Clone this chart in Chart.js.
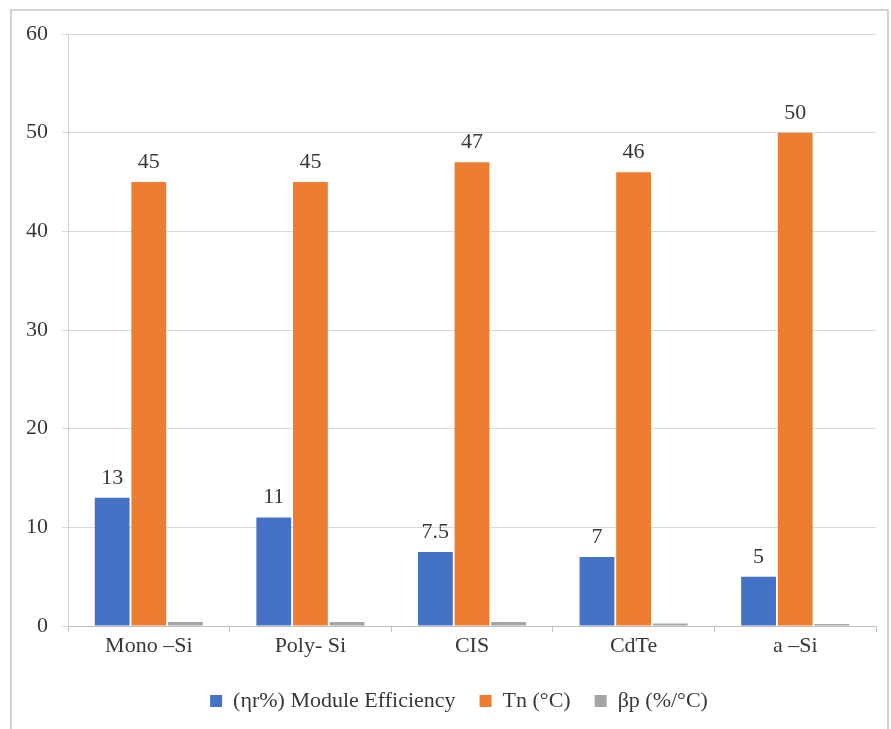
<!DOCTYPE html>
<html>
<head>
<meta charset="utf-8">
<script src="https://cdn.jsdelivr.net/npm/chart.js@4/dist/chart.umd.min.js"></script>
<style>
  html, body { margin: 0; padding: 0; background: #ffffff; }
  #wrap { position: relative; width: 891px; height: 729px; overflow: hidden; }
  #frame { position: absolute; left: 10px; top: 9px; width: 879px; height: 760px;
           border: 2px solid #d2d2d2; box-sizing: border-box; pointer-events: none; }
  canvas { position: absolute; left: 0; top: 0; }
</style>
</head>
<body>
<div id="wrap">
  <canvas id="chart" width="891" height="729"></canvas>
  <div id="frame"></div>
</div>
<script>
// PV module technologies and their characteristics
const categories = ['Mono \u2013Si', 'Poly- Si', 'CIS', 'CdTe', 'a \u2013Si'];
const efficiency = [13, 11, 7.5, 7, 5];          // (ηr%) Module Efficiency
const noct = [45, 45, 47, 46, 50];               // Tn (°C)
const tempCoeff = [0.4, 0.4, 0.4, 0.25, 0.2];    // βp (%/°C)
const yTicks = [0, 10, 20, 30, 40, 50, 60];

const seriesNames = ['(\u03b7r%) Module Efficiency', 'Tn (\u00b0C)', '\u03b2p (%/\u00b0C)'];
const FONT = "'Liberation Serif', 'Times New Roman', serif";
const TEXT = '#383838';

// Value labels above the efficiency and temperature bars
const barValueLabels = {
  id: 'barValueLabels',
  afterDatasetsDraw(chart) {
    const ctx = chart.ctx;
    ctx.save();
    ctx.font = '22px ' + FONT;
    ctx.fillStyle = TEXT;
    ctx.textAlign = 'center';
    ctx.textBaseline = 'alphabetic';
    [0, 1].forEach(di => {
      const meta = chart.getDatasetMeta(di);
      meta.data.forEach((bar, i) => {
        const v = chart.data.datasets[di].data[i];
        ctx.fillText(String(v), bar.x, bar.y - 14);
      });
    });
    ctx.restore();
  }
};

// Centre the legend under the plot area rather than the whole canvas
const legendUnderPlot = {
  id: 'legendUnderPlot',
  afterLayout(chart) {
    const lg = chart.legend;
    if (!lg) return;
    const shift = 21;
    lg.left += shift;
    lg.right += shift;
  }
};

new Chart(document.getElementById('chart'), {
  type: 'bar',
  data: {
    labels: categories,
    datasets: [
      { label: seriesNames[0], data: efficiency, backgroundColor: '#4472C4' },
      { label: seriesNames[1], data: noct, backgroundColor: '#ED7D31' },
      { label: seriesNames[2], data: tempCoeff, backgroundColor: '#A5A5A5' }
    ]
  },
  options: {
    responsive: false,
    animation: false,
    devicePixelRatio: 1,
    datasets: { bar: { categoryPercentage: 0.68, barPercentage: 0.95 } },
    layout: { padding: { top: 34, right: 15, bottom: 7, left: 0 } },
    scales: {
      x: {
        grid: { display: true, drawOnChartArea: false, drawTicks: true, tickLength: 6, color: '#bfbfbf', offset: true },
        border: { display: true, color: '#bfbfbf', width: 1 },
        ticks: { color: TEXT, font: { family: FONT, size: 22 }, padding: 1, maxRotation: 0 },
        afterFit(scale) { scale.height = 40; }
      },
      y: {
        min: 0, max: 60,
        afterBuildTicks(scale) { scale.ticks = yTicks.map(v => ({ value: v })); },
        grid: { color: '#d9d9d9', tickLength: 6, drawTicks: true },
        border: { display: true, color: '#d0d0d0', width: 1 },
        ticks: { color: TEXT, font: { family: FONT, size: 22 }, padding: 14 },
        afterFit(scale) { scale.width = 68; }
      }
    },
    plugins: {
      legend: {
        position: 'bottom',
        labels: {
          color: TEXT,
          font: { family: FONT, size: 22 },
          boxWidth: 12, boxHeight: 12,
          padding: 24
        }
      },
      tooltip: { enabled: false }
    }
  },
  plugins: [barValueLabels, legendUnderPlot]
});
</script>
</body>
</html>
